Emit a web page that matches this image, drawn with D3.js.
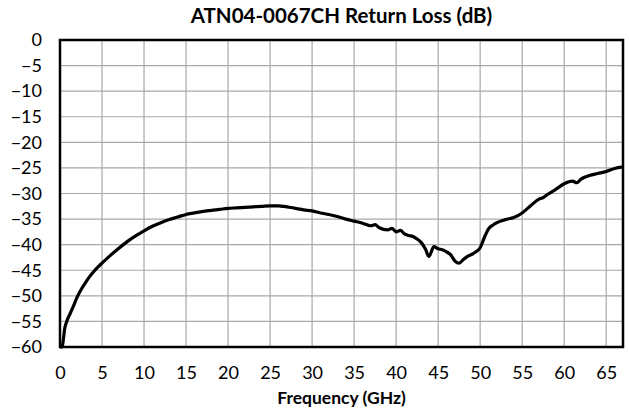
<!DOCTYPE html>
<html><head><meta charset="utf-8">
<script src="https://cdn.jsdelivr.net/npm/d3@7"></script>
<style>body{margin:0;background:#fff}svg{display:block}text{font-family:Lato,"Open Sans",sans-serif}</style>
</head><body><svg id="c" width="629" height="416"></svg>
<script>
const title = "ATN04-0067CH Return Loss (dB)";
const xLabel = "Frequency (GHz)";
const xTicks = [0,5,10,15,20,25,30,35,40,45,50,55,60,65];
const yTicks = [0,-5,-10,-15,-20,-25,-30,-35,-40,-45,-50,-55,-60];
const freq = [0,0.25,0.4,0.55,0.8,1.2,1.6,2,2.5,3,3.5,4,4.5,5,6,7,8,9,10,11,12,13,14,15,16,17,18,19,20,21,22,23,24,25,26,26.5,27,28,29,30,31,32,33,34,35,36,37,37.5,38,39,39.5,40,40.5,41,41.5,42,42.5,43,43.5,43.9,44.5,45,45.5,46,46.5,47,47.5,48,48.5,49,49.5,50,50.5,51,51.5,52,53,54,55,56,57,57.5,58,59,60,61,61.5,62,63,64,65,66,67];
const rl = [-60,-60,-58.5,-56.5,-55,-53.5,-52,-50.4,-48.8,-47.5,-46.3,-45.3,-44.4,-43.6,-42.1,-40.7,-39.4,-38.3,-37.3,-36.4,-35.7,-35.1,-34.6,-34.1,-33.8,-33.5,-33.3,-33.1,-32.9,-32.8,-32.7,-32.6,-32.5,-32.4,-32.4,-32.5,-32.6,-32.9,-33.2,-33.4,-33.8,-34.1,-34.5,-35,-35.4,-35.8,-36.3,-36.1,-36.7,-37.1,-36.8,-37.5,-37.2,-37.9,-38.2,-38.4,-38.9,-39.6,-40.9,-42.3,-40.4,-40.8,-41,-41.4,-42,-43.2,-43.6,-42.9,-42.3,-41.9,-41.4,-40.6,-38.6,-36.9,-36.2,-35.7,-35.1,-34.7,-33.8,-32.4,-31.1,-30.8,-30.2,-29.2,-28.1,-27.6,-27.9,-27.2,-26.5,-26.1,-25.7,-25.1,-24.8];

const svg = d3.select("#c");
const m = {l:60, r:629-623, t:40, b:416-347};
const W = 629, H = 416;
const x = d3.scaleLinear().domain([0,67]).range([m.l, W-m.r]);
const y = d3.scaleLinear().domain([-60,0]).range([H-m.b, m.t]);

// grid
svg.append("g").selectAll("line.v").data(xTicks.filter(d=>d>0)).join("line")
  .attr("x1",d=>x(d)).attr("x2",d=>x(d)).attr("y1",m.t).attr("y2",H-m.b)
  .attr("stroke","#a8a8a8").attr("stroke-width",1.2);
svg.append("g").selectAll("line.h").data(yTicks.filter(d=>d>-60&&d<0)).join("line")
  .attr("y1",d=>y(d)).attr("y2",d=>y(d)).attr("x1",m.l).attr("x2",W-m.r)
  .attr("stroke","#a8a8a8").attr("stroke-width",1.2);

// axes (labels only)
const xa = svg.append("g").attr("transform",`translate(0,${H-m.b})`)
  .call(d3.axisBottom(x).tickValues(xTicks).tickSize(0).tickPadding(19));
const ya = svg.append("g").attr("transform",`translate(${m.l},0)`)
  .call(d3.axisLeft(y).tickValues(yTicks).tickSize(0).tickPadding(18));
[xa,ya].forEach(a=>{a.select(".domain").remove();a.selectAll("text").attr("font-size",18).attr("fill","#000").style("font-family","Lato,'Open Sans',sans-serif");});

// line
svg.append("path").datum(freq.map((f,i)=>[f,rl[i]]))
  .attr("d", d3.line().curve(d3.curveMonotoneX).x(d=>x(d[0])).y(d=>y(d[1])))
  .attr("fill","none").attr("stroke","#000").attr("stroke-width",3.2).attr("stroke-linejoin","round");

// border
svg.append("rect").attr("x",m.l).attr("y",m.t).attr("width",W-m.r-m.l).attr("height",H-m.b-m.t)
  .attr("fill","none").attr("stroke","#000").attr("stroke-width",2.5);

svg.append("text").attr("x",(m.l+W-m.r)/2).attr("y",23).attr("text-anchor","middle")
  .attr("font-size",20.5).attr("font-weight","bold").text(title);
svg.append("text").attr("x",(m.l+W-m.r)/2).attr("y",404).attr("text-anchor","middle")
  .attr("font-size",17.5).attr("font-weight","bold").text(xLabel);
</script></body></html>
